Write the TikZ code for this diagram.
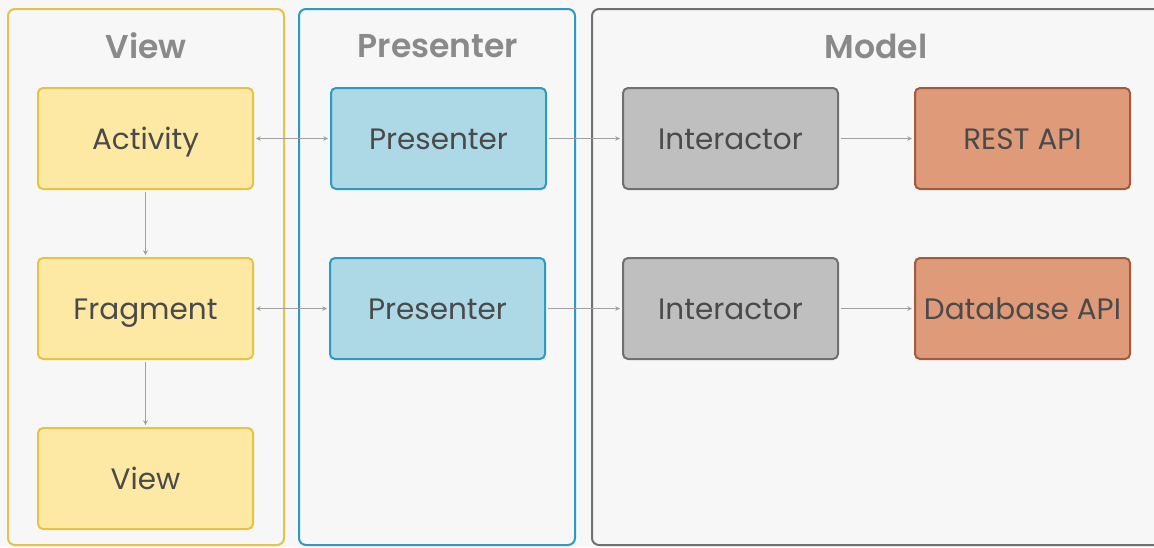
\documentclass[tikz,border=0pt]{standalone}
\usepackage{fontspec}
\setmainfont{Poppins}
\newfontfamily\titlefont{Poppins SemiBold}
\usepackage{xcolor}
\usepackage{tikz}
\usetikzlibrary{positioning}

\definecolor{bgGray}{HTML}{F7F7F7}
\definecolor{txtDark}{HTML}{4A4A4A}
\definecolor{txtTitle}{HTML}{8A8A8A}
\definecolor{arrowGray}{HTML}{A0A0A0}
\definecolor{viewLine}{HTML}{E6C340}
\definecolor{viewFill}{HTML}{FDE9A4}
\definecolor{presLine}{HTML}{2B9BC2}
\definecolor{presFill}{HTML}{ADD8E6}
\definecolor{modelLine}{HTML}{707070}
\definecolor{modelFill}{HTML}{BFBFBF}
\definecolor{apiLine}{HTML}{A05A3E}
\definecolor{apiFill}{HTML}{DF9A7A}

\tikzset{
	panel/.style={draw, line width=2pt, rounded corners=7pt, fill=bgGray,
		minimum width=276pt, minimum height=536pt, inner sep=0pt},
	paneltitle/.style={font=\fontsize{33}{38}\titlefont, text=txtTitle},
	block/.style={draw, line width=2pt, rounded corners=5pt,
		minimum width=215pt, minimum height=101pt, inner sep=0pt,
		text height=21pt, text depth=0pt,
		font=\fontsize{29.5}{34}\selectfont, text=txtDark},
	viewblock/.style={block, draw=viewLine, fill=viewFill},
	presblock/.style={block, draw=presLine, fill=presFill},
	modelblock/.style={block, draw=modelLine, fill=modelFill},
	apiblock/.style={block, draw=apiLine, fill=apiFill},
	link/.style={arrowGray, line width=1.1pt, shorten <=2pt, shorten >=2pt}
}

\begin{document}
\begin{tikzpicture}[>=stealth, x=1pt, y=-1pt]
\useasboundingbox[fill=bgGray] (0,0) rectangle (1154,547);
\clip (0,0) rectangle (1154,547);

% the three layers
\node[panel, draw=viewLine]  (ViewPanel)  at (146,277) {};
\node[panel, draw=presLine]  (PresPanel)  at (437,277) {};
\node[panel, draw=modelLine, minimum width=590pt] (ModelPanel) at (887,277) {};

\node[paneltitle] (ViewTitle)  at (146,46) {View};
\node[paneltitle] (PresTitle)  at (438,46) {Presenter};
\node[paneltitle] (ModelTitle) at (876,46) {Model};

% view side
\node[viewblock] (Activity) at (145.5,138.5) {Activity};
\node[viewblock] (Fragment) at (145.5,308.5) {Fragment};
\node[viewblock] (View)     at (145.5,478.5) {View};

% presenters
\node[presblock] (PresA) at (438.5,138.5) {Presenter};
\node[presblock] (PresB) at (437.5,308.5) {Presenter};

% model side
\node[modelblock] (InterA) at (730.5,138.5) {Interactor};
\node[modelblock] (InterB) at (730.5,308.5) {Interactor};
\node[apiblock]   (Rest)   at (1022.5,138.5) {REST API};
\node[apiblock]   (Db)     at (1022.5,308.5) {Database API};

\draw[link,<->] (Activity) -- (PresA);
\draw[link,<->] (Fragment) -- (PresB);
\draw[link,->]  (PresA) -- (InterA);
\draw[link,->]  (PresB) -- (InterB);
\draw[link,->]  (InterA) -- (Rest);
\draw[link,->]  (InterB) -- (Db);
\draw[link,->]  (Activity) -- (Fragment);
\draw[link,->]  (Fragment) -- (View);
\end{tikzpicture}
\end{document}
